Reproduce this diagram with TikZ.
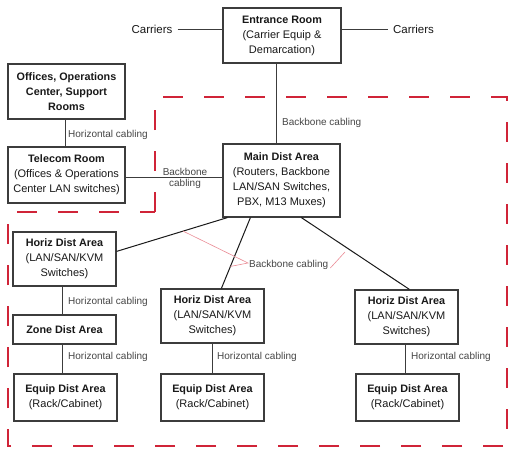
\documentclass[tikz,border=0pt]{standalone}
\usepackage{fontspec}
\setmainfont{Liberation Sans}
\usetikzlibrary{calc}
\definecolor{boxline}{RGB}{60,60,60}
\definecolor{dashred}{RGB}{208,36,56}
\definecolor{pinkline}{RGB}{235,140,150}
\definecolor{txt}{RGB}{25,25,25}
\definecolor{lbl}{RGB}{70,70,70}
\newcommand{\tb}[1]{{\fontsize{10.8}{15}\selectfont\bfseries #1}}
\tikzset{
  room/.style={draw=boxline, line width=1.2pt, inner sep=0pt, align=center, text=txt,
    font=\fontsize{11}{15}\selectfont},
  conn/.style={draw=boxline, line width=1pt},
  diag/.style={draw=black!90, line width=1pt},
  lab/.style={font=\fontsize{10}{10.5}\selectfont, text=lbl, inner sep=0pt},
  carrier/.style={font=\fontsize{11.5}{13}\selectfont, text=txt, inner sep=0pt},
  zonedash/.style={draw=dashred, line width=2pt, dash pattern=on 20pt off 21pt},
  pinkrule/.style={draw=pinkline, line width=0.6pt},
}
\begin{document}
\begin{tikzpicture}[x=1pt,y=-1pt]
\useasboundingbox[fill=white] (0,0) rectangle (517,455);
% dashed zone
\draw[zonedash] (155,212) -- (155,97) -- (507,97) -- (507,446) -- (8,446) -- (8,212) -- cycle;

% boxes
\node[room, minimum width=118pt, minimum height=55pt] (entr) at (282,35.5)
  {\tb{Entrance Room}\\(Carrier Equip \&\\Demarcation)};
\node[room, minimum width=117pt, minimum height=55pt] (offices) at (66.5,91.5)
  {\tb{Offices, Operations}\\\tb{Center, Support}\\\tb{Rooms}};
\node[room, minimum width=117pt, minimum height=56pt] (telecom) at (66.5,175)
  {\tb{Telecom Room}\\(Offices \& Operations\\Center LAN switches)};
\node[room, minimum width=117pt, minimum height=73pt] (main) at (281.5,180.5)
  {\tb{Main Dist Area}\\(Routers, Backbone\\LAN/SAN Switches,\\PBX, M13 Muxes)};
\node[room, minimum width=103pt, minimum height=54pt] (hl) at (64.5,259)
  {\tb{Horiz Dist Area}\\(LAN/SAN/KVM\\Switches)};
\node[room, minimum width=103pt, minimum height=29pt] (zone) at (64.5,329.5)
  {\tb{Zone Dist Area}};
\node[room, minimum width=103pt, minimum height=47pt] (el) at (65.5,397.5)
  {\tb{Equip Dist Area}\\(Rack/Cabinet)};
\node[room, minimum width=103pt, minimum height=54pt] (hm) at (212.5,316)
  {\tb{Horiz Dist Area}\\(LAN/SAN/KVM\\Switches)};
\node[room, minimum width=103pt, minimum height=47pt] (em) at (212.5,397.5)
  {\tb{Equip Dist Area}\\(Rack/Cabinet)};
\node[room, minimum width=103pt, minimum height=54pt] (hr) at (406.5,317)
  {\tb{Horiz Dist Area}\\(LAN/SAN/KVM\\Switches)};
\node[room, minimum width=103pt, minimum height=47pt] (er) at (407.5,397.5)
  {\tb{Equip Dist Area}\\(Rack/Cabinet)};

% carriers
\node[carrier] (carL) at (152,29) {Carriers};
\node[carrier] (carR) at (413.5,29) {Carriers};
\draw[conn] ([xshift=5pt]carL.east) -- (carL.east -| entr.west);
\draw[conn] ([xshift=-5pt]carR.west) -- (carR.west -| entr.east);

% entrance - main
\draw[conn] ($(entr.south)+(-6,0)$) coordinate (e1) -- (e1 |- main.north);
\node[lab, anchor=west] (bb1) at (282,123) {Backbone cabling};

% offices - telecom
\draw[conn] ($(offices.south)+(-1.5,0)$) coordinate (o1) -- (o1 |- telecom.north);
\node[lab, anchor=west] (hc1) at (68,135) {Horizontal cabling};

% telecom - main
\draw[conn] ($(telecom.east)+(0,2)$) coordinate (t1) -- (t1 -| main.west);
\node[lab, align=center] (bb2) at (185,178.5) {Backbone\\cabling};

% main - horiz
\coordinate (m1) at ($(main.south west)+(5,0)$);
\coordinate (m2) at ($(main.south west)+(28,0)$);
\coordinate (m3) at ($(main.south west)+(79,0)$);
\coordinate (h1) at ($(hl.north east)+(0,20)$);
\coordinate (h2) at ($(hm.north west)+(61,0)$);
\coordinate (h3) at ($(hr.north west)+(55,0)$);
\draw[diag] (m1) -- (h1);
\draw[diag] (m2) -- (h2);
\draw[diag] (m3) -- (h3);

% backbone label with pink leaders
\node[lab, anchor=west] (bb3) at (249,265) {Backbone cabling};
\coordinate (apex) at ($(bb3.west)+(-1,-2)$);
\coordinate (p3) at (345,252);
\draw[pinkrule] ($(m1)!0.4!(h1)$) -- (apex) -- ($(m2)!0.69!(h2)$);
\draw[pinkrule] ($(bb3.east)+(2,3)$) -- (p3);

% verticals lower
\draw[conn] ($(hl.south)+(-2.5,0)$) coordinate (v1) -- (v1 |- zone.north);
\draw[conn] ($(zone.south)+(-2.5,0)$) coordinate (v2) -- (v2 |- el.north);
\draw[conn] ($(hm.south)+(-0.5,0)$) coordinate (v3) -- (v3 |- em.north);
\draw[conn] ($(hr.south)+(-1.5,0)$) coordinate (v4) -- (v4 |- er.north);
\node[lab, anchor=west] (hc2) at (68,302) {Horizontal cabling};
\node[lab, anchor=west] (hc3) at (68,357) {Horizontal cabling};
\node[lab, anchor=west] (hc4) at (217,357) {Horizontal cabling};
\node[lab, anchor=west] (hc5) at (411,357) {Horizontal cabling};
\end{tikzpicture}
\end{document}
